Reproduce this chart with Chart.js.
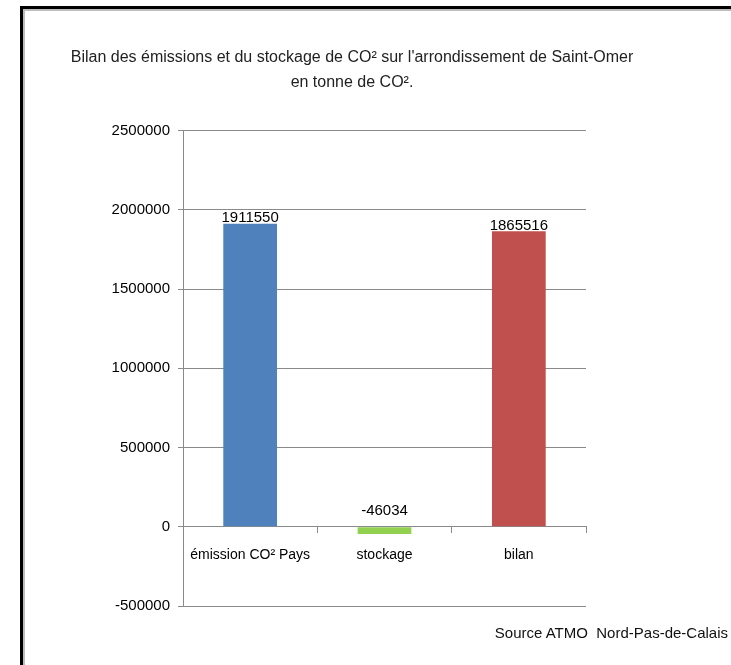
<!DOCTYPE html>
<html>
<head>
<meta charset="utf-8">
<script src="https://cdn.jsdelivr.net/npm/chart.js@4"></script>
<style>
    body { margin: 0; background: #fff; }
    #wrap { position: relative; width: 731px; height: 665px; overflow: hidden; }
    #chart { position: absolute; left: 0; top: 0; }
    #frame {
        position: absolute; left: 20px; top: 6px; width: 800px; height: 800px;
        border-left: 3px solid #000; border-top: 3px solid #000;
        box-shadow: inset 2px 2px 0 #bdbdbd;
        pointer-events: none;
    }
    #source {
        position: absolute; right: 3px; top: 624px;
        font: 15px 'Liberation Sans', Arial, sans-serif; color: #111;
        white-space: pre;
    }
</style>
</head>
<body>
<div id="wrap">
    <canvas id="chart" width="731" height="665"></canvas>
    <div id="frame"></div>
    <div id="source">Source ATMO  Nord-Pas-de-Calais</div>
</div>
<script>
const categories = ['émission CO² Pays', 'stockage', 'bilan'];
const valeurs = [1911550, -46034, 1865516];
const couleurs = ['#4F81BD', '#92D050', '#C0504D'];
const titre = ["Bilan des émissions et du stockage de CO² sur l'arrondissement de Saint-Omer", 'en tonne de CO².'];

const fontFamily = "'Liberation Sans', Arial, sans-serif";

// etiquettes de valeur au-dessus des barres
const etiquettes = {
    id: 'etiquettes',
    afterDatasetsDraw(chart) {
        const ctx = chart.ctx;
        const meta = chart.getDatasetMeta(0);
        ctx.save();
        ctx.font = '15px ' + fontFamily;
        ctx.fillStyle = '#000';
        ctx.textAlign = 'center';
        ctx.textBaseline = 'bottom';
        meta.data.forEach((bar, i) => {
            const v = valeurs[i];
            const y = v >= 0 ? bar.y + 2 : bar.base - 9;
            ctx.fillText(String(v), bar.x, y);
        });
        ctx.restore();
    }
};

const ctx = document.getElementById('chart').getContext('2d');
new Chart(ctx, {
    type: 'bar',
    data: {
        labels: categories,
        datasets: [{
            data: valeurs,
            backgroundColor: couleurs,
            borderWidth: 0,
            barPercentage: 0.4,
            categoryPercentage: 1
        }]
    },
    options: {
        responsive: false,
        animation: false,
        layout: { padding: { left: 0, right: 27, top: 45, bottom: 59 } },
        plugins: {
            legend: { display: false },
            tooltip: { enabled: false },
            title: {
                display: true,
                text: titre,
                color: '#222',
                font: { family: fontFamily, size: 16, weight: 'normal', lineHeight: 1.55 },
                padding: { top: 0, bottom: 36 }
            }
        },
        scales: {
            x: {
                position: { y: 0 },
                grid: {
                    offset: true,
                    drawOnChartArea: false,
                    drawTicks: true,
                    tickLength: 6,
                    color: '#8a8a8a'
                },
                border: { display: true, color: '#8a8a8a' },
                ticks: {
                    color: '#000',
                    padding: 14,
                    font: { family: fontFamily, size: 14 }
                }
            },
            y: {
                min: -500000,
                max: 2500000,
                afterFit: axis => { axis.width = 183; },
                grid: { color: '#8a8a8a', tickLength: 5 },
                border: { display: true, color: '#8a8a8a' },
                ticks: {
                    stepSize: 500000,
                    color: '#000',
                    padding: 8,
                    font: { family: fontFamily, size: 15 },
                    callback: value => String(value)
                }
            },
            // axe vide pour garder la marge de droite
            marge: {
                position: 'right',
                afterFit: axis => { axis.width = 118; },
                grid: { drawOnChartArea: false, drawTicks: false },
                border: { display: false },
                ticks: { display: false }
            }
        }
    },
    plugins: [etiquettes]
});
</script>
</body>
</html>
